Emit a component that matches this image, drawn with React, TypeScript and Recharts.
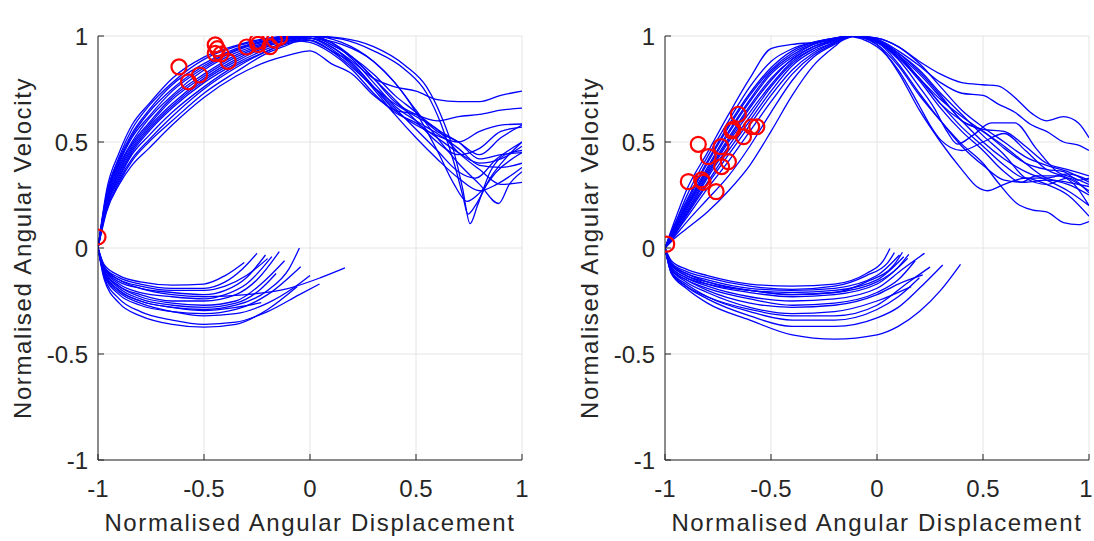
import React from 'react';
import { ComposedChart, Line, Scatter, XAxis, YAxis, CartesianGrid } from 'recharts';

const axisTicks = [-1, -0.5, 0, 0.5, 1];

// Pelvis: rising branch (shared x), falling branch, return branch, event markers
const pelvisRiseX = [-1, -0.96, -0.9, -0.84, -0.76, -0.65, -0.5, -0.35, -0.2, -0.1];
const pelvisRiseY = [
  [0, 0.27, 0.45, 0.58, 0.68, 0.8, 0.9, 0.955, 0.99, 1.0],
  [0, 0.25, 0.43, 0.56, 0.67, 0.78, 0.89, 0.95, 0.985, 1.0],
  [0, 0.25, 0.42, 0.54, 0.65, 0.77, 0.87, 0.94, 0.98, 0.995],
  [0, 0.24, 0.41, 0.53, 0.64, 0.75, 0.86, 0.935, 0.98, 0.995],
  [0, 0.24, 0.4, 0.52, 0.62, 0.74, 0.85, 0.93, 0.975, 0.99],
  [0, 0.23, 0.39, 0.5, 0.61, 0.72, 0.84, 0.92, 0.97, 0.99],
  [0, 0.22, 0.38, 0.49, 0.59, 0.71, 0.82, 0.91, 0.965, 0.99],
  [0, 0.22, 0.37, 0.48, 0.58, 0.7, 0.81, 0.9, 0.96, 0.985],
  [0, 0.21, 0.36, 0.47, 0.57, 0.68, 0.8, 0.89, 0.955, 0.98],
  [0, 0.21, 0.35, 0.46, 0.56, 0.67, 0.79, 0.88, 0.95, 0.98],
  [0, 0.2, 0.34, 0.45, 0.55, 0.66, 0.78, 0.87, 0.94, 0.975],
  [0, 0.2, 0.33, 0.44, 0.53, 0.64, 0.76, 0.86, 0.93, 0.97],
  [0, 0.19, 0.32, 0.42, 0.51, 0.62, 0.75, 0.85, 0.93, 0.965],
  [0, 0.18, 0.31, 0.41, 0.5, 0.6, 0.73, 0.83, 0.92, 0.96],
  [0, 0.17, 0.3, 0.39, 0.47, 0.58, 0.71, 0.81, 0.88, 0.91],
];
const pelvisFall: [number, number][][] = [
  [[0, 1.0], [0.15, 0.99], [0.3, 0.95], [0.45, 0.86], [0.55, 0.76], [0.62, 0.62], [0.68, 0.45], [0.72, 0.28], [0.755, 0.115], [0.79, 0.2], [0.85, 0.36], [0.92, 0.44], [1, 0.46]],
  [[0, 1.0], [0.15, 0.985], [0.3, 0.93], [0.45, 0.84], [0.55, 0.73], [0.62, 0.58], [0.68, 0.4], [0.72, 0.25], [0.745, 0.16], [0.78, 0.2], [0.85, 0.33], [0.92, 0.42], [1, 0.5]],
  [[0, 0.99], [0.15, 0.96], [0.3, 0.88], [0.4, 0.78], [0.5, 0.64], [0.6, 0.46], [0.68, 0.3], [0.74, 0.22], [0.8, 0.26], [0.88, 0.36], [1, 0.45]],
  [[0, 1.0], [0.15, 0.97], [0.3, 0.88], [0.4, 0.78], [0.5, 0.65], [0.6, 0.52], [0.7, 0.4], [0.8, 0.3], [0.89, 0.21], [0.94, 0.3], [1, 0.36]],
  [[0, 0.99], [0.1, 0.95], [0.2, 0.88], [0.3, 0.8], [0.4, 0.76], [0.5, 0.74], [0.6, 0.7], [0.7, 0.69], [0.8, 0.69], [0.9, 0.72], [1, 0.74]],
  [[0, 1.0], [0.1, 0.96], [0.2, 0.9], [0.3, 0.8], [0.4, 0.69], [0.5, 0.63], [0.6, 0.6], [0.7, 0.62], [0.8, 0.63], [0.9, 0.65], [1, 0.66]],
  [[0, 0.98], [0.1, 0.93], [0.2, 0.87], [0.3, 0.76], [0.4, 0.65], [0.5, 0.58], [0.6, 0.53], [0.7, 0.5], [0.8, 0.55], [0.9, 0.58], [1, 0.585]],
  [[0, 1.0], [0.1, 0.97], [0.2, 0.9], [0.3, 0.8], [0.4, 0.7], [0.5, 0.6], [0.6, 0.5], [0.7, 0.44], [0.8, 0.47], [0.9, 0.55], [1, 0.57]],
  [[0, 0.99], [0.1, 0.95], [0.2, 0.87], [0.3, 0.76], [0.4, 0.66], [0.5, 0.56], [0.6, 0.46], [0.7, 0.36], [0.78, 0.33], [0.88, 0.42], [1, 0.5]],
  [[0, 0.97], [0.1, 0.92], [0.2, 0.84], [0.3, 0.73], [0.4, 0.64], [0.5, 0.59], [0.6, 0.52], [0.7, 0.45], [0.8, 0.4], [0.9, 0.42], [1, 0.48]],
  [[0, 1.0], [0.1, 0.97], [0.2, 0.89], [0.3, 0.78], [0.4, 0.67], [0.5, 0.6], [0.6, 0.54], [0.7, 0.47], [0.8, 0.39], [0.9, 0.38], [1, 0.4]],
  [[0, 0.99], [0.1, 0.94], [0.2, 0.86], [0.3, 0.75], [0.4, 0.63], [0.5, 0.52], [0.6, 0.42], [0.7, 0.33], [0.8, 0.27], [0.88, 0.3], [1, 0.38]],
  [[0, 0.98], [0.1, 0.93], [0.2, 0.85], [0.3, 0.76], [0.4, 0.68], [0.5, 0.62], [0.6, 0.56], [0.7, 0.45], [0.8, 0.37], [0.9, 0.3], [1, 0.31]],
  [[0, 1.0], [0.1, 0.96], [0.2, 0.9], [0.3, 0.82], [0.4, 0.72], [0.5, 0.64], [0.6, 0.55], [0.7, 0.5], [0.8, 0.42], [0.9, 0.44], [1, 0.45]],
  [[0, 0.93], [0.1, 0.87], [0.2, 0.82], [0.3, 0.72], [0.4, 0.65], [0.5, 0.63], [0.6, 0.56], [0.7, 0.5], [0.8, 0.44], [0.9, 0.52], [1, 0.58]],
];
const pelvisReturn: [number, number][][] = [
  [[-1, 0], [-0.97, -0.08], [-0.9, -0.13], [-0.8, -0.16], [-0.65, -0.175], [-0.5, -0.17], [-0.4, -0.13], [-0.31, -0.068]],
  [[-1, 0], [-0.97, -0.09], [-0.9, -0.14], [-0.8, -0.17], [-0.65, -0.19], [-0.5, -0.19], [-0.4, -0.16], [-0.32, -0.1], [-0.25, -0.025]],
  [[-1, 0], [-0.97, -0.1], [-0.9, -0.16], [-0.8, -0.19], [-0.65, -0.21], [-0.5, -0.22], [-0.4, -0.2], [-0.3, -0.14], [-0.21, -0.033]],
  [[-1, 0], [-0.97, -0.1], [-0.9, -0.17], [-0.8, -0.21], [-0.65, -0.23], [-0.5, -0.24], [-0.4, -0.22], [-0.3, -0.17], [-0.18, -0.041]],
  [[-1, 0], [-0.97, -0.11], [-0.9, -0.18], [-0.8, -0.22], [-0.65, -0.25], [-0.5, -0.25], [-0.35, -0.22], [-0.25, -0.15], [-0.145, -0.017]],
  [[-1, 0], [-0.97, -0.12], [-0.9, -0.2], [-0.8, -0.25], [-0.65, -0.28], [-0.5, -0.29], [-0.35, -0.27], [-0.2, -0.2], [-0.1, -0.1], [-0.05, 0]],
  [[-1, 0], [-0.97, -0.13], [-0.9, -0.22], [-0.8, -0.27], [-0.65, -0.3], [-0.5, -0.31], [-0.35, -0.29], [-0.2, -0.22], [-0.044, -0.088]],
  [[-1, 0], [-0.97, -0.09], [-0.9, -0.15], [-0.8, -0.19], [-0.65, -0.22], [-0.5, -0.23], [-0.3, -0.22], [-0.1, -0.19], [0.05, -0.14], [0.165, -0.094]],
  [[-1, 0], [-0.97, -0.14], [-0.9, -0.24], [-0.8, -0.3], [-0.65, -0.34], [-0.5, -0.36], [-0.35, -0.35], [-0.2, -0.3], [-0.05, -0.22], [0.045, -0.17]],
  [[-1, 0], [-0.97, -0.15], [-0.9, -0.26], [-0.8, -0.32], [-0.65, -0.36], [-0.5, -0.373], [-0.35, -0.36], [-0.2, -0.29], [-0.06, -0.182]],
  [[-1, 0], [-0.97, -0.12], [-0.9, -0.2], [-0.8, -0.25], [-0.65, -0.28], [-0.5, -0.295], [-0.35, -0.28], [-0.23, -0.258]],
  [[-1, 0], [-0.97, -0.1], [-0.9, -0.15], [-0.8, -0.18], [-0.65, -0.2], [-0.5, -0.2], [-0.4, -0.18], [-0.3, -0.13], [-0.2, -0.05]],
  [[-1, 0], [-0.97, -0.11], [-0.9, -0.18], [-0.8, -0.23], [-0.65, -0.26], [-0.5, -0.27], [-0.35, -0.25], [-0.22, -0.16], [-0.12, -0.06]],
  [[-1, 0], [-0.97, -0.13], [-0.9, -0.21], [-0.8, -0.26], [-0.65, -0.3], [-0.5, -0.32], [-0.35, -0.31], [-0.2, -0.26], [-0.08, -0.19], [0, -0.13]],
  [[-1, 0], [-0.97, -0.11], [-0.9, -0.19], [-0.8, -0.24], [-0.65, -0.27], [-0.5, -0.28], [-0.35, -0.26], [-0.24, -0.2], [-0.16, -0.12]],
];
const pelvisMarks: [number, number][] = [
  [-0.618, 0.854], [-0.573, 0.784], [-0.521, 0.816], [-0.447, 0.958], [-0.437, 0.94],
  [-0.447, 0.918], [-0.42, 0.915], [-0.386, 0.88], [-0.299, 0.948], [-0.249, 0.975],
  [-0.245, 0.96], [-0.189, 0.95], [-0.168, 0.981], [-0.143, 0.994], [-1, 0.052],
];

// Thorax
const thoraxRiseX = [-1, -0.95, -0.9, -0.8, -0.7, -0.6, -0.5, -0.4, -0.3, -0.2];
const thoraxRiseY = [
  [0, 0.14, 0.27, 0.45, 0.63, 0.8, 0.94, 0.96, 0.97, 0.985],
  [0, 0.12, 0.24, 0.43, 0.6, 0.76, 0.88, 0.94, 0.97, 0.99],
  [0, 0.12, 0.22, 0.41, 0.58, 0.73, 0.85, 0.93, 0.97, 0.99],
  [0, 0.11, 0.21, 0.4, 0.57, 0.72, 0.84, 0.92, 0.965, 0.99],
  [0, 0.1, 0.2, 0.38, 0.55, 0.7, 0.83, 0.91, 0.96, 0.985],
  [0, 0.1, 0.19, 0.37, 0.54, 0.69, 0.82, 0.9, 0.96, 0.985],
  [0, 0.1, 0.19, 0.36, 0.52, 0.67, 0.8, 0.89, 0.95, 0.98],
  [0, 0.09, 0.18, 0.35, 0.51, 0.66, 0.79, 0.89, 0.95, 0.98],
  [0, 0.09, 0.17, 0.34, 0.5, 0.64, 0.77, 0.88, 0.94, 0.98],
  [0, 0.08, 0.16, 0.33, 0.48, 0.62, 0.76, 0.87, 0.94, 0.975],
  [0, 0.08, 0.16, 0.31, 0.46, 0.6, 0.74, 0.86, 0.93, 0.97],
  [0, 0.07, 0.15, 0.3, 0.44, 0.58, 0.72, 0.84, 0.92, 0.97],
  [0, 0.07, 0.14, 0.28, 0.41, 0.55, 0.69, 0.82, 0.91, 0.965],
  [0, 0.06, 0.12, 0.23, 0.34, 0.48, 0.64, 0.79, 0.9, 0.96],
  [0, 0.05, 0.09, 0.17, 0.27, 0.39, 0.55, 0.72, 0.86, 0.95],
];
const thoraxFall: [number, number][][] = [
  [[-0.12, 1.0], [0, 0.99], [0.1, 0.95], [0.2, 0.88], [0.3, 0.82], [0.4, 0.78], [0.5, 0.77], [0.57, 0.765], [0.65, 0.71], [0.73, 0.635], [0.8, 0.6], [0.88, 0.62], [0.95, 0.59], [1, 0.52]],
  [[-0.1, 1.0], [0, 0.985], [0.1, 0.93], [0.2, 0.86], [0.3, 0.78], [0.4, 0.73], [0.5, 0.72], [0.57, 0.68], [0.65, 0.64], [0.73, 0.58], [0.8, 0.55], [0.88, 0.5], [0.95, 0.485], [1, 0.46]],
  [[-0.13, 1.0], [0, 0.98], [0.1, 0.92], [0.2, 0.83], [0.3, 0.72], [0.4, 0.6], [0.5, 0.56], [0.6, 0.55], [0.7, 0.48], [0.8, 0.4], [0.9, 0.37], [1, 0.34]],
  [[-0.12, 1.0], [0, 0.97], [0.1, 0.89], [0.2, 0.76], [0.27, 0.66], [0.33, 0.55], [0.38, 0.49], [0.45, 0.53], [0.54, 0.59], [0.65, 0.59], [0.75, 0.47], [0.85, 0.36], [0.93, 0.33], [1, 0.3]],
  [[-0.15, 1.0], [0, 0.95], [0.1, 0.84], [0.2, 0.67], [0.25, 0.58], [0.3, 0.51], [0.4, 0.46], [0.5, 0.5], [0.6, 0.54], [0.7, 0.46], [0.8, 0.37], [0.9, 0.33], [1, 0.27]],
  [[-0.1, 1.0], [0, 0.98], [0.1, 0.9], [0.2, 0.8], [0.3, 0.68], [0.4, 0.6], [0.5, 0.55], [0.6, 0.47], [0.7, 0.4], [0.8, 0.37], [0.88, 0.36], [0.95, 0.32], [1, 0.33]],
  [[-0.14, 1.0], [0, 0.97], [0.1, 0.87], [0.2, 0.73], [0.3, 0.6], [0.4, 0.48], [0.5, 0.39], [0.6, 0.32], [0.7, 0.31], [0.8, 0.32], [0.9, 0.3], [1, 0.25]],
  [[-0.12, 1.0], [0, 0.96], [0.1, 0.86], [0.2, 0.72], [0.3, 0.6], [0.4, 0.49], [0.5, 0.4], [0.57, 0.31], [0.66, 0.21], [0.73, 0.18], [0.8, 0.17], [0.88, 0.12], [0.95, 0.11], [1, 0.125]],
  [[-0.12, 1.0], [0, 0.975], [0.1, 0.91], [0.2, 0.82], [0.3, 0.71], [0.4, 0.6], [0.5, 0.5], [0.6, 0.42], [0.7, 0.36], [0.8, 0.32], [0.9, 0.27], [1, 0.2]],
  [[-0.1, 1.0], [0, 0.99], [0.1, 0.95], [0.2, 0.87], [0.3, 0.76], [0.4, 0.65], [0.5, 0.57], [0.6, 0.5], [0.7, 0.43], [0.8, 0.39], [0.9, 0.36], [1, 0.31]],
  [[-0.13, 1.0], [0, 0.97], [0.1, 0.9], [0.2, 0.8], [0.3, 0.7], [0.4, 0.62], [0.5, 0.55], [0.6, 0.48], [0.7, 0.4], [0.8, 0.33], [0.9, 0.31], [1, 0.29]],
  [[-0.11, 1.0], [0, 0.96], [0.1, 0.83], [0.2, 0.65], [0.3, 0.5], [0.4, 0.37], [0.47, 0.29], [0.52, 0.27], [0.6, 0.3], [0.7, 0.33], [0.8, 0.3], [0.9, 0.25], [1, 0.15]],
  [[-0.12, 1.0], [0, 0.98], [0.1, 0.92], [0.2, 0.84], [0.3, 0.73], [0.4, 0.63], [0.5, 0.53], [0.6, 0.44], [0.7, 0.33], [0.8, 0.3], [0.9, 0.33], [1, 0.26]],
  [[-0.1, 1.0], [0, 0.98], [0.1, 0.91], [0.2, 0.8], [0.3, 0.68], [0.4, 0.57], [0.5, 0.48], [0.6, 0.39], [0.7, 0.33], [0.8, 0.33], [0.9, 0.35], [1, 0.32]],
  [[-0.13, 1.0], [0, 0.975], [0.1, 0.9], [0.2, 0.79], [0.3, 0.66], [0.4, 0.55], [0.5, 0.46], [0.6, 0.36], [0.68, 0.31], [0.75, 0.34], [0.85, 0.34], [0.93, 0.3], [1, 0.2]],
];
const thoraxReturn: [number, number][][] = [
  [[-1, 0], [-0.97, -0.06], [-0.9, -0.1], [-0.8, -0.13], [-0.6, -0.17], [-0.4, -0.18], [-0.2, -0.17], [-0.05, -0.12], [0.03, -0.06], [0.061, -0.002]],
  [[-1, 0], [-0.97, -0.07], [-0.9, -0.11], [-0.8, -0.14], [-0.6, -0.18], [-0.4, -0.195], [-0.2, -0.18], [-0.05, -0.13], [0.05, -0.07], [0.082, -0.022]],
  [[-1, 0], [-0.97, -0.07], [-0.9, -0.12], [-0.8, -0.15], [-0.6, -0.19], [-0.4, -0.2], [-0.2, -0.19], [0, -0.13], [0.106, -0.033]],
  [[-1, 0], [-0.97, -0.08], [-0.9, -0.12], [-0.8, -0.16], [-0.6, -0.2], [-0.4, -0.21], [-0.2, -0.2], [0, -0.15], [0.126, -0.041]],
  [[-1, 0], [-0.97, -0.08], [-0.9, -0.13], [-0.8, -0.17], [-0.6, -0.21], [-0.4, -0.23], [-0.2, -0.22], [0, -0.17], [0.145, -0.049]],
  [[-1, 0], [-0.97, -0.09], [-0.9, -0.14], [-0.8, -0.18], [-0.6, -0.23], [-0.4, -0.25], [-0.2, -0.24], [0, -0.19], [0.12, -0.1], [0.224, -0.025]],
  [[-1, 0], [-0.97, -0.1], [-0.9, -0.15], [-0.8, -0.2], [-0.6, -0.26], [-0.4, -0.28], [-0.2, -0.27], [0, -0.22], [0.1, -0.17], [0.216, -0.127]],
  [[-1, 0], [-0.97, -0.1], [-0.9, -0.16], [-0.8, -0.21], [-0.6, -0.28], [-0.4, -0.31], [-0.2, -0.3], [0, -0.25], [0.161, -0.182]],
  [[-1, 0], [-0.97, -0.11], [-0.9, -0.17], [-0.8, -0.23], [-0.6, -0.3], [-0.4, -0.34], [-0.2, -0.34], [0, -0.29], [0.1, -0.23], [0.2, -0.14]],
  [[-1, 0], [-0.97, -0.11], [-0.9, -0.18], [-0.8, -0.24], [-0.6, -0.32], [-0.4, -0.37], [-0.2, -0.37], [0, -0.33], [0.1, -0.28], [0.2, -0.19], [0.31, -0.08]],
  [[-1, 0], [-0.97, -0.12], [-0.9, -0.19], [-0.8, -0.26], [-0.6, -0.34], [-0.4, -0.41], [-0.2, -0.43], [0, -0.41], [0.1, -0.37], [0.2, -0.3], [0.3, -0.2], [0.394, -0.077]],
  [[-1, 0], [-0.97, -0.09], [-0.9, -0.14], [-0.8, -0.17], [-0.6, -0.2], [-0.4, -0.22], [-0.2, -0.21], [0, -0.16], [0.1, -0.09], [0.15, -0.03]],
  [[-1, 0], [-0.97, -0.1], [-0.9, -0.15], [-0.8, -0.19], [-0.6, -0.24], [-0.4, -0.27], [-0.2, -0.26], [0, -0.21], [0.1, -0.15], [0.18, -0.06]],
  [[-1, 0], [-0.97, -0.12], [-0.9, -0.18], [-0.8, -0.23], [-0.6, -0.29], [-0.4, -0.32], [-0.2, -0.32], [0, -0.27], [0.15, -0.16], [0.25, -0.09]],
  [[-1, 0], [-0.97, -0.08], [-0.9, -0.13], [-0.8, -0.16], [-0.6, -0.2], [-0.4, -0.22], [-0.2, -0.21], [-0.05, -0.16], [0.08, -0.08], [0.12, -0.02]],
];
const thoraxMarks: [number, number][] = [
  [-0.654, 0.631], [-0.685, 0.552], [-0.68, 0.56], [-0.591, 0.572], [-0.567, 0.572],
  [-0.63, 0.525], [-0.843, 0.489], [-0.736, 0.478], [-0.796, 0.431], [-0.701, 0.407],
  [-0.733, 0.384], [-0.89, 0.313], [-0.827, 0.321], [-0.82, 0.31], [-0.759, 0.266], [-0.992, 0.018],
];

const FONT = "'Liberation Sans', Arial, Helvetica, sans-serif";
const INK = '#262626';

const toPts = (c: [number, number][]) => c.map(([x, y]) => ({ x, y }));

const XTitle = () => (
  <text x={310} y={531} textAnchor="middle" fontFamily={FONT} fontSize={24} letterSpacing={1.6} fill={INK}>
    Normalised Angular Displacement
  </text>
);
const YTitle = () => (
  <text transform="rotate(-90)" x={-248} y={31} textAnchor="middle" fontFamily={FONT} fontSize={24} letterSpacing={1.6} fill={INK}>
    Normalised Angular Velocity
  </text>
);
const PanelTitle = ({ text }: { text: string }) => (
  <text x={311} y={22} textAnchor="middle" fontFamily={FONT} fontSize={25} fontWeight="bold" fill="#000">
    {text}
  </text>
);

// bottom tick label; the last one on the right-hand panel is nudged so it stays on the page
const makeXTick = (nudgeLast: boolean) => (p: any) => {
  const v = p.payload.value;
  const dx = nudgeLast && v === 1 ? -3 : 0;
  return (
    <text x={p.x + dx} y={p.y} dy="0.71em" textAnchor="middle" fontFamily={FONT} fontSize={24} fill={INK}>
      {String(v)}
    </text>
  );
};

const ring = (p: any) => (
  <circle cx={p.cx} cy={p.cy} r={7.5} fill="none" stroke="#ff0000" strokeWidth={2.2} />
);

function Panel({ title, riseX, riseY, fall, ret, marks, nudgeLast }: {
  title: string; riseX: number[]; riseY: number[][];
  fall: [number, number][][]; ret: [number, number][][]; marks: [number, number][]; nudgeLast: boolean;
}) {
  const upper = riseY.map((ys, i) => [...riseX.map((x, j) => ({ x, y: ys[j] })), ...toPts(fall[i])]);
  const lower = ret.map(toPts);
  const tickStyle = { fill: INK, fontSize: 24, fontFamily: FONT };

  return (
    <ComposedChart width={545} height={541} margin={{ top: 36, right: 23, bottom: 41, left: 58 }}>
      <CartesianGrid stroke="#e4e4e4" />
      <XAxis type="number" dataKey="x" domain={[-1, 1]} ticks={axisTicks} interval={0} allowDataOverflow
        height={40} tickSize={-6} tickMargin={26} stroke={INK} tick={makeXTick(nudgeLast)} label={<XTitle />} />
      <XAxis xAxisId="top" orientation="top" type="number" domain={[-1, 1]} ticks={axisTicks} interval={0}
        allowDataOverflow height={0} tickSize={-6} tick={false} stroke={INK} label={<PanelTitle text={title} />} />
      <YAxis type="number" dataKey="y" domain={[-1, 1]} ticks={axisTicks} interval={0} allowDataOverflow
        width={40} tickSize={-6} tickMargin={16} stroke={INK} tick={tickStyle} label={<YTitle />} />
      <YAxis yAxisId="right" orientation="right" type="number" domain={[-1, 1]} ticks={axisTicks} interval={0}
        allowDataOverflow width={0} tickSize={-6} tick={false} stroke={INK} />
      {upper.map((d, i) => (
        <Line key={'u' + i} data={d} dataKey="y" type="monotone" stroke="#0000ff" strokeWidth={1.3}
          dot={false} activeDot={false} isAnimationActive={false} />
      ))}
      {lower.map((d, i) => (
        <Line key={'l' + i} data={d} dataKey="y" type="monotone" stroke="#0000ff" strokeWidth={1.3}
          dot={false} activeDot={false} isAnimationActive={false} />
      ))}
      <Scatter data={toPts(marks)} dataKey="y" shape={ring} isAnimationActive={false} />
    </ComposedChart>
  );
}

export default function App() {
  return (
    <div style={{ position: 'absolute', left: 0, top: 0, width: 1094, height: 541, background: '#fff', overflow: 'hidden' }}>
      <div style={{ position: 'absolute', left: 0, top: 0 }}>
        <Panel title="Pelvis" riseX={pelvisRiseX} riseY={pelvisRiseY} fall={pelvisFall} ret={pelvisReturn}
          marks={pelvisMarks} nudgeLast={false} />
      </div>
      <div style={{ position: 'absolute', left: 567, top: 0 }}>
        <Panel title="Thorax" riseX={thoraxRiseX} riseY={thoraxRiseY} fall={thoraxFall} ret={thoraxReturn}
          marks={thoraxMarks} nudgeLast={true} />
      </div>
    </div>
  );
}
